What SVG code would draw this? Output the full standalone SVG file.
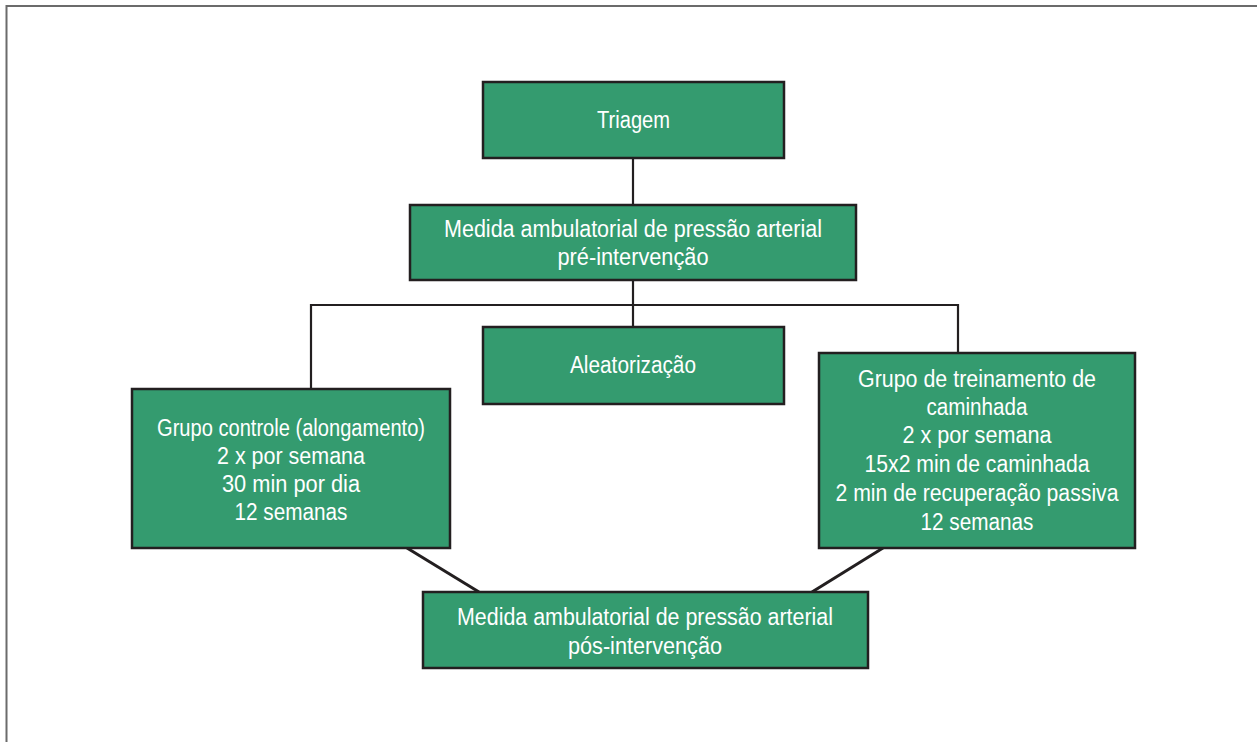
<svg xmlns="http://www.w3.org/2000/svg" width="1257" height="742" viewBox="0 0 1257 742">
<style>
.box{fill:#349B6F;stroke:#231F20;stroke-width:2.5}
.lbl{font-family:"Liberation Sans",Arial,sans-serif;font-size:23px;fill:#ffffff;text-anchor:middle}
.conn{stroke:#231F20;stroke-width:2.2;fill:none}
.diag{stroke:#231F20;stroke-width:3;fill:none}
</style>
<rect width="1257" height="742" fill="#ffffff"/>
<path d="M6.5,742 V6 H1257" fill="none" stroke="#6b6b6b" stroke-width="2"/>
<g id="connectors">
<line class="conn" x1="633" y1="158" x2="633" y2="205"/>
<line class="conn" x1="633" y1="280" x2="633" y2="327"/>
<polyline class="conn" points="311,389 311,305 958,305 958,353"/>
<line class="diag" x1="407" y1="548" x2="479" y2="592"/>
<line class="diag" x1="883" y1="548" x2="812" y2="592"/>
</g>
<g id="triagem">
<rect class="box" x="483" y="82" width="301" height="76"/>
<text class="lbl" x="633.5" y="128" textLength="73" lengthAdjust="spacingAndGlyphs">Triagem</text>
</g>
<g id="pre">
<rect class="box" x="410" y="205" width="446" height="75"/>
<text class="lbl" x="633" y="237" textLength="378" lengthAdjust="spacingAndGlyphs">Medida ambulatorial de pressão arterial</text>
<text class="lbl" x="633" y="265" textLength="151" lengthAdjust="spacingAndGlyphs">pré-intervenção</text>
</g>
<g id="aleatorizacao">
<rect class="box" x="483" y="327" width="301" height="77"/>
<text class="lbl" x="633" y="373" textLength="126" lengthAdjust="spacingAndGlyphs">Aleatorização</text>
</g>
<g id="controle">
<rect class="box" x="132" y="389" width="318" height="159"/>
<text class="lbl" x="291" y="436" textLength="268" lengthAdjust="spacingAndGlyphs">Grupo controle (alongamento)</text>
<text class="lbl" x="291" y="464" textLength="148" lengthAdjust="spacingAndGlyphs">2 x por semana</text>
<text class="lbl" x="291" y="492" textLength="138" lengthAdjust="spacingAndGlyphs">30 min por dia</text>
<text class="lbl" x="291" y="520" textLength="113" lengthAdjust="spacingAndGlyphs">12 semanas</text>
</g>
<g id="caminhada">
<rect class="box" x="819" y="353" width="316" height="195"/>
<text class="lbl" x="977" y="387" textLength="238" lengthAdjust="spacingAndGlyphs">Grupo de treinamento de</text>
<text class="lbl" x="977" y="415" textLength="101" lengthAdjust="spacingAndGlyphs">caminhada</text>
<text class="lbl" x="977" y="443" textLength="149" lengthAdjust="spacingAndGlyphs">2 x por semana</text>
<text class="lbl" x="977" y="472" textLength="225" lengthAdjust="spacingAndGlyphs">15x2 min de caminhada</text>
<text class="lbl" x="977" y="501" textLength="283" lengthAdjust="spacingAndGlyphs">2 min de recuperação passiva</text>
<text class="lbl" x="977" y="530" textLength="113" lengthAdjust="spacingAndGlyphs">12 semanas</text>
</g>
<g id="pos">
<rect class="box" x="423" y="592" width="445" height="76"/>
<text class="lbl" x="645" y="625" textLength="376" lengthAdjust="spacingAndGlyphs">Medida ambulatorial de pressão arterial</text>
<text class="lbl" x="645" y="654" textLength="154" lengthAdjust="spacingAndGlyphs">pós-intervenção</text>
</g>
</svg>
